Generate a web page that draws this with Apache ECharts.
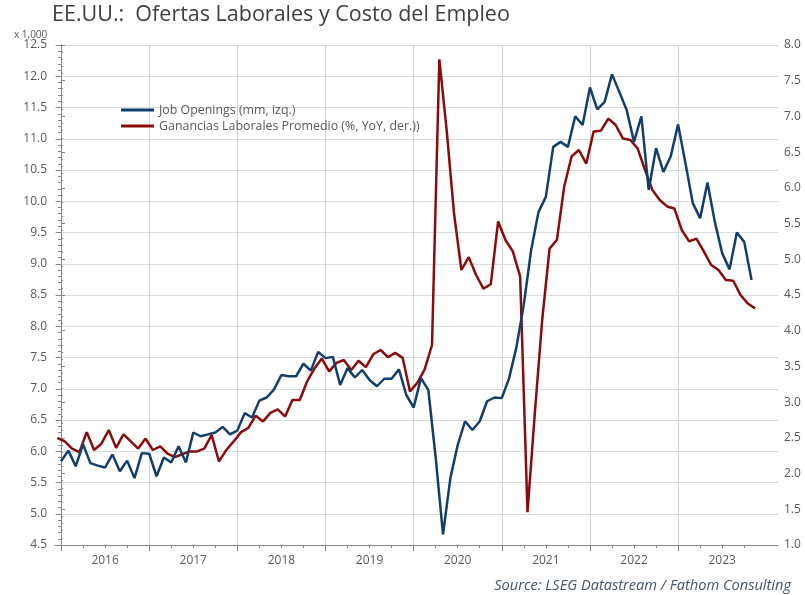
<!DOCTYPE html>
<html lang="es">
<head>
    <meta charset="UTF-8">
    <title>EE.UU.: Ofertas Laborales y Costo del Empleo</title>
    <script src="https://cdn.jsdelivr.net/npm/echarts@6/dist/echarts.min.js"></script>
    <style>
        body, html {
            margin: 0;
            background: #ffffff;
        }

        #chart {
            width: 805px;
            height: 595px;
        }
    </style>
</head>
<body>
<div id="chart"></div>
<script>
    // job openings, millions, monthly from start of 2016 (left axis)
    const jobOpenings = [
        5.84, 6.01, 5.76, 6.11, 5.81, 5.77, 5.74, 5.95, 5.68, 5.85, 5.57, 5.97,
        5.96, 5.60, 5.90, 5.82, 6.08, 5.82, 6.30, 6.24, 6.27, 6.30, 6.39, 6.27,
        6.33, 6.61, 6.54, 6.81, 6.86, 6.99, 7.22, 7.20, 7.20, 7.40, 7.29, 7.59,
        7.49, 7.51, 7.06, 7.33, 7.18, 7.30, 7.14, 7.04, 7.16, 7.16, 7.31, 6.90,
        6.70, 7.17, 6.98, 5.90, 4.67, 5.57, 6.10, 6.48, 6.34, 6.48, 6.80, 6.86,
        6.85, 7.17, 7.67, 8.35, 9.22, 9.83, 10.07, 10.87, 10.95, 10.87, 11.36, 11.22,
        11.82, 11.47, 11.59, 12.03, 11.75, 11.46, 10.95, 11.36, 10.18, 10.85, 10.47, 10.72,
        11.23, 10.61, 9.97, 9.73, 10.30, 9.67, 9.17, 8.91, 9.50, 9.35, 8.74
    ];

    // average hourly earnings, % YoY, mid-month from Dec 2015 (right axis)
    const earnings = [
        2.50, 2.45, 2.35, 2.30, 2.58, 2.33, 2.42, 2.61, 2.36, 2.55, 2.45, 2.35,
        2.49, 2.33, 2.38, 2.28, 2.23, 2.27, 2.31, 2.31, 2.35, 2.54, 2.17, 2.33,
        2.45, 2.58, 2.64, 2.81, 2.73, 2.85, 2.90, 2.80, 3.03, 3.03, 3.29, 3.47,
        3.61, 3.43, 3.55, 3.59, 3.45, 3.58, 3.49, 3.67, 3.73, 3.63, 3.69, 3.62,
        3.15, 3.27, 3.46, 3.80, 7.80, 6.80, 5.64, 4.85, 5.03, 4.78, 4.59, 4.65,
        5.53, 5.27, 5.11, 4.76, 1.46, 2.85, 4.15, 5.15, 5.27, 6.02, 6.44, 6.53,
        6.34, 6.79, 6.80, 6.97, 6.88, 6.69, 6.67, 6.55, 6.25, 5.97, 5.83, 5.74,
        5.71, 5.41, 5.25, 5.29, 5.11, 4.92, 4.85, 4.71, 4.70, 4.50, 4.38, 4.31
    ];

    const years = [2016, 2017, 2018, 2019, 2020, 2021, 2022, 2023];

    const legendNames = ['Job Openings (mm, izq.)', 'Ganancias Laborales Promedio (%, YoY, der.))'];

    // x axis runs in months since the start of 2016
    const yearStarts = years.map((y, i) => i * 12);
    const yearMids = years.map((y, i) => i * 12 + 6);
    const quarters = [];
    years.forEach((y, i) => {
        quarters.push(i * 12 + 3, i * 12 + 6, i * 12 + 9);
    });

    const blueData = jobOpenings.map((v, i) => [i, v]);
    const redData = earnings.map((v, k) => [k - 0.5, v]);

    const font = 'Open Sans';
    const grey = '#595959';

    const chart = echarts.init(document.getElementById('chart'), null, {renderer: 'canvas'});

    const option = {
        animation: false,
        backgroundColor: '#ffffff',
        title: [
            {
                text: 'EE.UU.:  Ofertas Laborales y Costo del Empleo',
                left: 47, top: -1,
                textStyle: {fontFamily: font, fontSize: 21.5, fontWeight: 'normal', color: '#404040'}
            },
            {
                text: 'x 1,000',
                left: 9, top: 25,
                textStyle: {fontFamily: font, fontSize: 10, fontWeight: 'normal', color: grey}
            },
            {
                text: 'Source: LSEG Datastream / Fathom Consulting',
                right: 9, top: 573,
                textStyle: {fontFamily: font, fontSize: 14.6, fontStyle: 'italic', fontWeight: 'normal', color: '#44546a'}
            }
        ],
        legend: {
            left: 116, top: 99,
            orient: 'vertical',
            itemGap: 4,
            icon: 'rect',
            itemWidth: 33, itemHeight: 3,
            textStyle: {fontFamily: font, fontSize: 12.4, color: grey},
            data: legendNames
        },
        grid: {left: 55, right: 27, top: 45, bottom: 50},
        xAxis: [
            {
                type: 'value',
                min: -0.82, max: 97.6,
                axisLine: {show: true, lineStyle: {color: '#868686'}},
                axisTick: {show: true, customValues: yearStarts, length: 6, lineStyle: {color: '#868686'}},
                splitLine: {show: true, lineStyle: {color: '#d4d4d4'}},
                axisLabel: {
                    customValues: yearMids,
                    margin: 10,
                    fontFamily: font, fontSize: 12, color: grey,
                    formatter: v => String(2016 + Math.round((v - 6) / 12))
                }
            },
            {
                type: 'value',
                min: -0.82, max: 97.6,
                position: 'bottom',
                axisLine: {show: false},
                axisTick: {show: true, customValues: quarters, length: 3, lineStyle: {color: '#868686'}},
                splitLine: {show: false},
                axisLabel: {show: false}
            }
        ],
        yAxis: [
            {
                type: 'value',
                min: 4.5, max: 12.5, interval: 0.5,
                axisLine: {show: true, lineStyle: {color: '#868686'}},
                axisTick: {show: true, length: 5, lineStyle: {color: '#868686'}},
                minorTick: {show: true, splitNumber: 5, length: 3, lineStyle: {color: '#868686'}},
                splitLine: {show: true, lineStyle: {color: '#d9dcdc', width: 1}},
                axisLabel: {margin: 8, fontFamily: font, fontSize: 12, color: grey, formatter: v => v.toFixed(1)}
            },
            {
                type: 'value',
                min: 1, max: 8, interval: 0.5,
                position: 'right',
                axisLine: {show: true, lineStyle: {color: '#868686'}},
                axisTick: {show: true, length: 4, lineStyle: {color: '#868686'}},
                minorTick: {show: true, splitNumber: 5, length: 2, lineStyle: {color: '#868686'}},
                splitLine: {show: false},
                axisLabel: {margin: 6, fontFamily: font, fontSize: 12, color: grey, formatter: v => v.toFixed(1)}
            }
        ],
        series: [
            {
                name: legendNames[0],
                type: 'line',
                xAxisIndex: 0, yAxisIndex: 0,
                data: blueData,
                showSymbol: false,
                color: '#123e6c',
                lineStyle: {width: 2.5, color: '#123e6c'},
                z: 3
            },
            {
                name: legendNames[1],
                type: 'line',
                xAxisIndex: 0, yAxisIndex: 1,
                data: redData,
                showSymbol: false,
                clip: true,
                color: '#8a0b0b',
                lineStyle: {width: 2.5, color: '#8a0b0b'},
                z: 2
            }
        ]
    };

    chart.setOption(option);
</script>
</body>
</html>
